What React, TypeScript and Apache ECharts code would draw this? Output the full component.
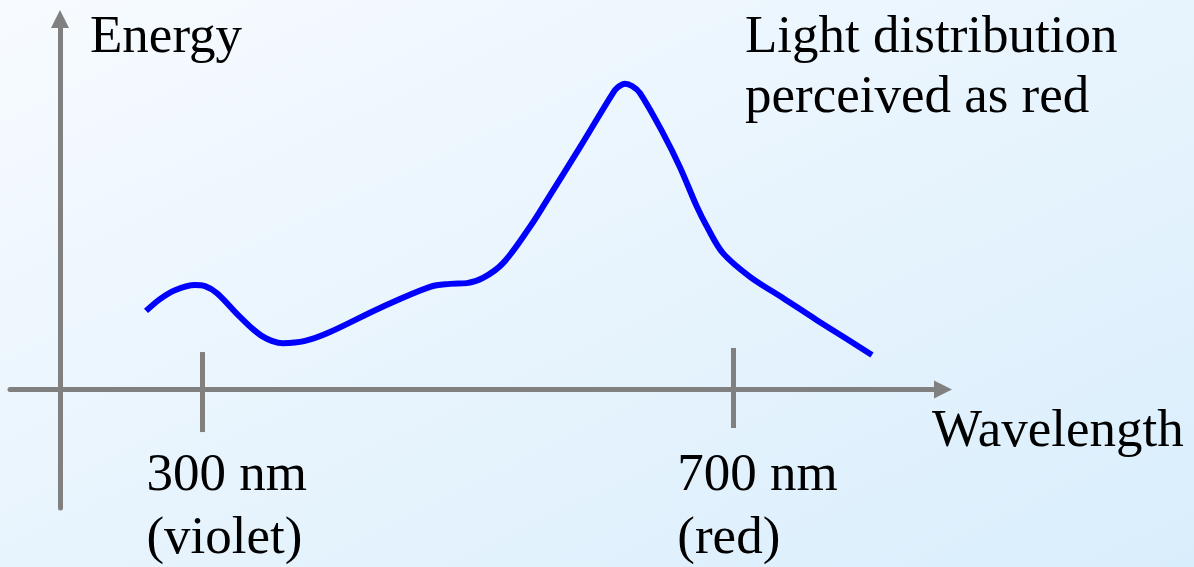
import React, { useEffect, useRef } from "react";
import * as echarts from "echarts";

// Wavelength (nm) and energy (arbitrary units)
const wavelengths = [
  257.5, 268.0, 279.3, 294.4, 301.9, 311.0, 328.3, 344.9, 360.7, 377.3, 396.1,
  433.8, 471.5, 486.5, 499.3, 511.4, 526.5, 546.8, 559.6, 584.5, 609.3,
  613.1, 618.4, 623.7, 629.7, 647.0, 659.8, 672.6, 680.2, 692.2, 712.6, 737.4,
  763.0, 787.9, 804.5,
];
const energy = [
  21.2, 24.4, 26.8, 28.2, 27.9, 26.0, 19.6, 14.4, 12.5, 13.1, 15.5,
  22.0, 27.7, 28.5, 28.7, 30.1, 34.1, 43.9, 51.1, 65.4, 80.0,
  81.6, 82.5, 81.9, 80.0, 69.2, 60.0, 49.3, 43.9, 36.8, 30.4, 24.7,
  18.7, 13.1, 9.3,
];

const tickValues = [300, 700];
const tickLabels = ["300 nm\n(violet)", "700 nm\n(red)"];
const yAxisTitle = "Energy";
const xAxisTitle = "Wavelength";
const annotation = "Light distribution\nperceived as red";

const FONT = '"Liberation Serif", "Times New Roman", serif';
const GRAY = "#808080";

export default function App() {
  const ref = useRef<HTMLDivElement>(null);

  useEffect(() => {
    if (!ref.current) return;
    const chart = echarts.init(ref.current, null, { renderer: "svg" });
    const data = wavelengths.map((w, i) => [w, energy[i]]);

    chart.setOption({
      animation: false,
      grid: {
        left: 10,
        top: 19,
        width: 933,
        height: 489,
        containLabel: false,
        outerBoundsMode: "none",
      },
      xAxis: {
        type: "value",
        min: 155,
        max: 858,
        axisLine: {
          show: true,
          onZero: true,
          symbol: ["none", "triangle"],
          symbolSize: [18, 18],
          lineStyle: { color: GRAY, width: 5 },
        },
        axisTick: { show: false },
        axisLabel: { show: false },
        splitLine: { show: false },
      },
      yAxis: {
        type: "value",
        min: -32,
        max: 100,
        offset: -50,
        axisLine: {
          show: true,
          onZero: false,
          symbol: ["none", "triangle"],
          symbolSize: [18, 18],
          lineStyle: { color: GRAY, width: 5 },
        },
        axisTick: { show: false },
        axisLabel: { show: false },
        splitLine: { show: false },
      },
      series: [
        {
          type: "line",
          data,
          smooth: 0.35,
          showSymbol: false,
          silent: true,
          lineStyle: { color: "#0000ff", width: 6, cap: "butt", join: "round" },
          markLine: {
            silent: true,
            symbol: "none",
            label: { show: false },
            lineStyle: { color: GRAY, width: 5, type: "solid" },
            data: [
              [{ coord: [tickValues[0], 10.1] }, { coord: [tickValues[0], -11.5] }],
              [{ coord: [tickValues[1], 11.2] }, { coord: [tickValues[1], -10.4] }],
            ],
          },
        },
      ],
    });

    const tickTexts = tickValues.map((v, i) => {
      const px = chart.convertToPixel({ xAxisIndex: 0 }, v) as number;
      return {
        type: "text",
        left: px - 56,
        top: 440,
        style: {
          text: tickLabels[i],
          fontSize: 53,
          fontFamily: FONT,
          lineHeight: 63,
          fill: "#000",
        },
      };
    });

    chart.setOption({
      graphic: [
        {
          type: "text",
          left: 90,
          top: 4,
          style: { text: yAxisTitle, fontSize: 53, fontFamily: FONT, lineHeight: 60, fill: "#000" },
        },
        {
          type: "text",
          left: 745,
          top: 4,
          style: { text: annotation, fontSize: 53, fontFamily: FONT, lineHeight: 60, fill: "#000" },
        },
        {
          type: "text",
          left: 932,
          top: 398,
          style: { text: xAxisTitle, fontSize: 53, fontFamily: FONT, lineHeight: 60, fill: "#000" },
        },
        ...tickTexts,
      ],
    });

    return () => chart.dispose();
  }, []);

  return (
    <div
      ref={ref}
      style={{
        position: "absolute",
        left: 0,
        top: 0,
        width: 1194,
        height: 567,
        background: "linear-gradient(to bottom right, #f7fbff 0%, #e8f4fd 50%, #d9eefc 100%)",
      }}
    />
  );
}
